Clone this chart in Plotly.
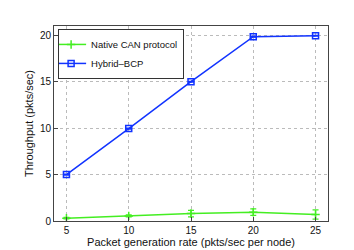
import plotly.graph_objects as go

rates = [5, 10, 15, 20, 25]
native = [0.3, 0.55, 0.8, 0.95, 0.7]
native_err = [0.08, 0.1, 0.35, 0.35, 0.5]
hybrid = [5.0, 9.95, 15.0, 19.85, 19.95]
hybrid_err = [0.05, 0.05, 0.05, 0.05, 0.05]

fig = go.Figure()
fig.add_trace(go.Scatter(x=rates, y=native, name="Native CAN protocol", mode="lines+markers",
                         line=dict(color="#44ee22", width=1.5),
                         marker=dict(symbol="cross-thin", size=6, line=dict(color="#44ee22", width=1.5)),
                         error_y=dict(type="data", array=native_err, color="#44ee22", thickness=1.2, width=3)))
fig.add_trace(go.Scatter(x=rates, y=hybrid, name="Hybrid\u2013BCP", mode="lines+markers",
                         line=dict(color="#1133ff", width=1.5),
                         marker=dict(symbol="square-open", size=6, color="#1133ff", line=dict(width=1.5)),
                         error_y=dict(type="data", array=hybrid_err, color="#1133ff", thickness=1.2, width=3)))

ax = dict(showline=True, linecolor="#444", linewidth=1, mirror=True, ticks="inside", ticklen=4,
          tickcolor="#444", showgrid=True, gridcolor="#bbb", griddash="dot", gridwidth=1,
          zeroline=False, tickfont=dict(size=10, color="#111"))
fig.update_xaxes(range=[4, 26], tickvals=[5, 10, 15, 20, 25],
                 title=dict(text="Packet generation rate (pkts/sec per node)", font=dict(size=11, color="#111"), standoff=2), **ax)
fig.update_yaxes(range=[0, 21], tickvals=[0, 5, 10, 15, 20],
                 title=dict(text="Throughput (pkts/sec)", font=dict(size=11, color="#111"), standoff=4), **ax)
fig.update_layout(width=354, height=250, margin=dict(l=46, r=34, t=18, b=28),
                  paper_bgcolor="white", plot_bgcolor="white",
                  font=dict(family="Liberation Sans, Arial, sans-serif"),
                  legend=dict(x=0.015, y=0.985, xanchor="left", yanchor="top", bordercolor="#333",
                              borderwidth=1, bgcolor="white", font=dict(size=9.5, color="#111"),
                              tracegroupgap=0, itemwidth=30, indentation=-8))
fig.write_html("out.html")
